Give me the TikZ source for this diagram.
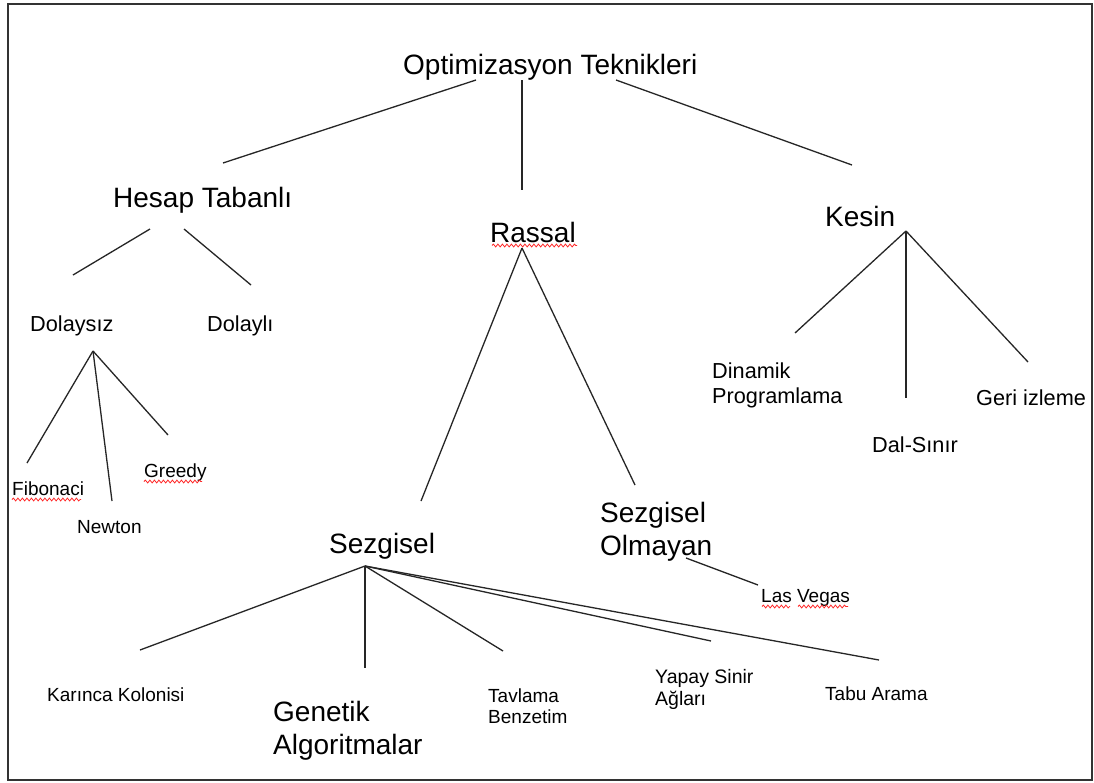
\documentclass[tikz,border=0pt]{standalone}
\usepackage{fontspec}
\setmainfont{Liberation Sans}
\usetikzlibrary{decorations.pathmorphing}
% two stacked lines, baseline of the box = baseline of the first line
\newcommand\twolines[2]{\vtop{\hbox{#1}\hbox{#2}}}
\begin{document}
\begin{tikzpicture}[x=1pt,y=-1pt,
  lbl/.style={inner sep=0pt, anchor=base west, text=black},
  big/.style={lbl, font=\fontsize{28}{33}\selectfont},
  mid/.style={lbl, font=\fontsize{21.7}{25}\selectfont},
  small/.style={lbl, font=\fontsize{19}{21.5}\selectfont},
  link/.style={draw=black!85, line width=1.3pt},
  squig/.style={draw=red!85, line width=0.8pt, decorate,
    decoration={snake, amplitude=1.4pt, segment length=4.5pt}},
]
\useasboundingbox (0,0) rectangle (1094,782);
\fill[white] (0,0) rectangle (1094,782);
\draw[draw=black!80, line width=1.6pt] (8,4) rectangle (1092,780);

% ---- labels ----
\node[big] (opt) at (403,74) {Optimizasyon Teknikleri};
\node[big] (hes) at (113,207) {Hesap Tabanlı};
\node[big] (ras) at (490,242) {Rassal};
\node[big] (kes) at (825,226) {Kesin};

\node[mid] (dsz) at (30,331) {Dolaysız};
\node[mid] (dly) at (207,331) {Dolaylı};
\node[small] (fib) at (12,495) {Fibonaci};
\node[small] (new) at (77,533) {Newton};
\node[small] (gre) at (144,477) {Greedy};

\node[mid] (din) at (712,378) {\twolines{Dinamik}{Programlama}};
\node[mid] (dal) at (872,452) {Dal-Sınır};
\node[mid] (ger) at (976,405) {Geri izleme};

\node[big] (sez) at (329,553) {Sezgisel};
\node[big] (sol) at (600,522) {\twolines{Sezgisel}{Olmayan}};
\node[small] (las) at (761,602) {Las Vegas};

\node[small] (kar) at (47,701) {Karınca Kolonisi};
\node[big] (gen) at (273,721) {\twolines{Genetik}{Algoritmalar}};
\node[small] (tav) at (488,702) {\twolines{Tavlama}{Benzetim}};
\node[small, font=\fontsize{19.5}{22}\selectfont] (yap) at (655,683) {\twolines{Yapay Sinir}{Ağları}};
\node[small] (tab) at (825,700) {Tabu Arama};

% ---- end points of the branches ----
\coordinate (opt-l) at (476,80);
\coordinate (opt-m) at (522,80);
\coordinate (opt-r) at (616,80);
\coordinate (hes-t) at (223,163);
\coordinate (ras-t) at (522,190);
\coordinate (kes-t) at (852,165);

\coordinate (hes-bl) at (150,229);
\coordinate (hes-br) at (184,229);
\coordinate (dsz-t) at (73,275);
\coordinate (dly-t) at (251,285);

\coordinate (dsz-b) at (93,351);
\coordinate (fib-t) at (27,463);
\coordinate (new-t) at (112,501);
\coordinate (gre-t) at (168,435);

\coordinate (ras-b) at (522,248);
\coordinate (sez-t) at (421,501);
\coordinate (sol-t) at (635,485);

\coordinate (kes-b) at (906,231);
\coordinate (din-t) at (795,333);
\coordinate (dal-t) at (906,398);
\coordinate (ger-t) at (1028,362);

\coordinate (sez-b) at (365,566);
\coordinate (kar-t) at (140,650);
\coordinate (gen-t) at (365,668);
\coordinate (tav-t) at (503,651);
\coordinate (yap-t) at (711,641);
\coordinate (tab-t) at (879,660);

\coordinate (sol-b) at (686,558);
\coordinate (las-t) at (758,585);

% ---- branches ----
\draw[link] (opt-l) -- (hes-t);
\draw[link] (opt-m) -- (ras-t);
\draw[link] (opt-r) -- (kes-t);
\draw[link] (hes-bl) -- (dsz-t);
\draw[link] (hes-br) -- (dly-t);
\draw[link] (dsz-b) -- (fib-t);
\draw[link] (dsz-b) -- (new-t);
\draw[link] (dsz-b) -- (gre-t);
\draw[link] (ras-b) -- (sez-t);
\draw[link] (ras-b) -- (sol-t);
\draw[link] (kes-b) -- (din-t);
\draw[link] (kes-b) -- (dal-t);
\draw[link] (kes-b) -- (ger-t);
\draw[link] (sez-b) -- (kar-t);
\draw[link] (sez-b) -- (gen-t);
\draw[link] (sez-b) -- (tav-t);
\draw[link] (sez-b) -- (yap-t);
\draw[link] (sez-b) -- (tab-t);
\draw[link] (sol-b) -- (las-t);

% ---- spelling marks under words ----
\draw[squig] (492,245.5) -- (577,245.5);
\draw[squig] (12,499.5) -- (81,499.5);
\draw[squig] (144,481.5) -- (202,481.5);
\draw[squig] (762,606.5) -- (790,606.5);
\draw[squig] (798,606.5) -- (848,606.5);
\end{tikzpicture}
\end{document}
